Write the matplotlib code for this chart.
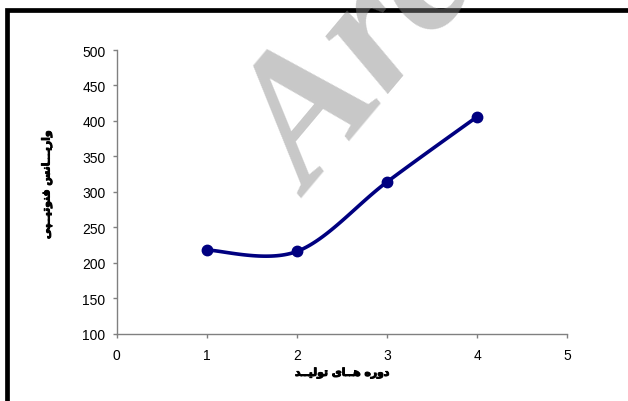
import numpy as np
import matplotlib
matplotlib.use("Agg")
import matplotlib.pyplot as plt
from matplotlib.patches import Rectangle
import matplotlib.patheffects as pe

# ---- data ----
periods = [1, 2, 3, 4]
variance = [218, 216, 314, 406]
x_ticks = [0, 1, 2, 3, 4, 5]
y_ticks = [100, 150, 200, 250, 300, 350, 400, 450, 500]
x_label = "دوره هــای تولیــد"
y_label = "واریـــانس فنوتیــپی"
watermark = "Archive of SID"

# ---- minimal Arabic/Persian shaping (presentation forms + RTL order) ----
FORMS = {
    'ا': ('\uFE8D', '\uFE8E', None, None),
    'د': ('\uFEA9', '\uFEAA', None, None),
    'ر': ('\uFEAD', '\uFEAE', None, None),
    'و': ('\uFEED', '\uFEEE', None, None),
    'ن': ('\uFEE5', '\uFEE6', '\uFEE7', '\uFEE8'),
    'س': ('\uFEB1', '\uFEB2', '\uFEB3', '\uFEB4'),
    'ف': ('\uFED1', '\uFED2', '\uFED3', '\uFED4'),
    'ت': ('\uFE95', '\uFE96', '\uFE97', '\uFE98'),
    'ه': ('\uFEE9', '\uFEEA', '\uFEEB', '\uFEEC'),
    'ل': ('\uFEDD', '\uFEDE', '\uFEDF', '\uFEE0'),
    'ی': ('\uFBFC', '\uFBFD', '\uFBFE', '\uFBFF'),
    'پ': ('\uFB56', '\uFB57', '\uFB58', '\uFB59'),
}
TATWEEL = '\u0640'


def joins_forward(c):
    return c == TATWEEL or (c in FORMS and FORMS[c][2] is not None)


def is_letter(c):
    return c == TATWEEL or c in FORMS


def shape(text):
    out = []
    for i, c in enumerate(text):
        if c not in FORMS:
            out.append(c)
            continue
        prev = text[i - 1] if i > 0 else ' '
        nxt = text[i + 1] if i + 1 < len(text) else ' '
        jp = joins_forward(prev)
        jn = joins_forward(c) and is_letter(nxt)
        iso, fin, ini, med = FORMS[c]
        if jp and jn:
            out.append(med)
        elif jp:
            out.append(fin)
        elif jn:
            out.append(ini)
        else:
            out.append(iso)
    return ''.join(reversed(out))


def smooth_curve(xs, ys, n=40):
    """Piecewise cubic Bezier through the points (Catmull-Rom style)."""
    pts = np.column_stack([xs, ys]).astype(float)
    out = [pts[0]]
    t = np.linspace(0, 1, n)[1:, None]
    for i in range(len(pts) - 1):
        p0 = pts[i - 1] if i > 0 else pts[i]
        p1, p2 = pts[i], pts[i + 1]
        p3 = pts[i + 2] if i + 2 < len(pts) else pts[i + 1]
        c1 = p1 + (p2 - p0) / 6.0
        c2 = p2 - (p3 - p1) / 6.0
        seg = ((1 - t) ** 3) * p1 + 3 * ((1 - t) ** 2) * t * c1 \
            + 3 * (1 - t) * t ** 2 * c2 + t ** 3 * p2
        out.extend(seg)
    return np.array(out)


W, H = 628, 402
fig = plt.figure(figsize=(W / 100, H / 100), dpi=100)
fig.patch.set_facecolor('white')

ax = fig.add_axes([116.7 / W, 1 - 334.7 / H, 450.6 / W, 283.7 / H])
ax.set_xlim(0, 5)
ax.set_ylim(100, 500)
ax.set_xticks(x_ticks)
ax.set_yticks(y_ticks)

curve = smooth_curve(periods, variance)
ax.plot(curve[:, 0], curve[:, 1], color='#000080', lw=2.6,
        solid_capstyle='round', clip_on=False, zorder=3)
ax.plot(periods, variance, 'o', color='#000080', ms=7.5, clip_on=False,
        zorder=4)

for s in ('top', 'right'):
    ax.spines[s].set_visible(False)
for s in ('left', 'bottom'):
    ax.spines[s].set_color('#808080')
    ax.spines[s].set_linewidth(1.0)

ax.tick_params(axis='both', direction='out', length=3, width=1,
               color='#808080', labelcolor='black')
ax.tick_params(axis='y', pad=5)
ax.tick_params(axis='x', pad=7)
for lab in ax.get_xticklabels() + ax.get_yticklabels():
    lab.set_fontfamily('Liberation Sans')
    lab.set_fontsize(10)

heavy = [pe.withStroke(linewidth=0.7, foreground='black')]
label_font = dict(family='DejaVu Sans', weight='bold', size=7.8)
ax.set_xlabel(shape(x_label), **label_font)
ax.xaxis.set_label_coords(0.5, (334.7 - 374) / 283.7)
ax.xaxis.label.set_verticalalignment('center')
ax.xaxis.label.set_path_effects(heavy)
ax.set_ylabel(shape(y_label), **label_font)
ax.yaxis.set_label_coords((47 - 116.7) / 450.6, (334.7 - 186) / 283.7)
ax.yaxis.label.set_verticalalignment('center')
ax.yaxis.label.set_path_effects(heavy)

# outer frame (continues past the right and bottom edges)
fig.add_artist(Rectangle((6.5 / W, -0.2), 1.5, 1.2 - 11 / H,
                         transform=fig.transFigure, fill=False,
                         edgecolor='black', lw=3.4, zorder=1))

# diagonal watermark
fig.text(311 / W, 1 - 198 / H, watermark, family='Liberation Serif',
         weight='bold', style='italic', size=133, color='#858585',
         alpha=0.45, rotation=50, rotation_mode='anchor',
         ha='left', va='baseline', zorder=10)

fig.savefig('out.png', dpi=100)
